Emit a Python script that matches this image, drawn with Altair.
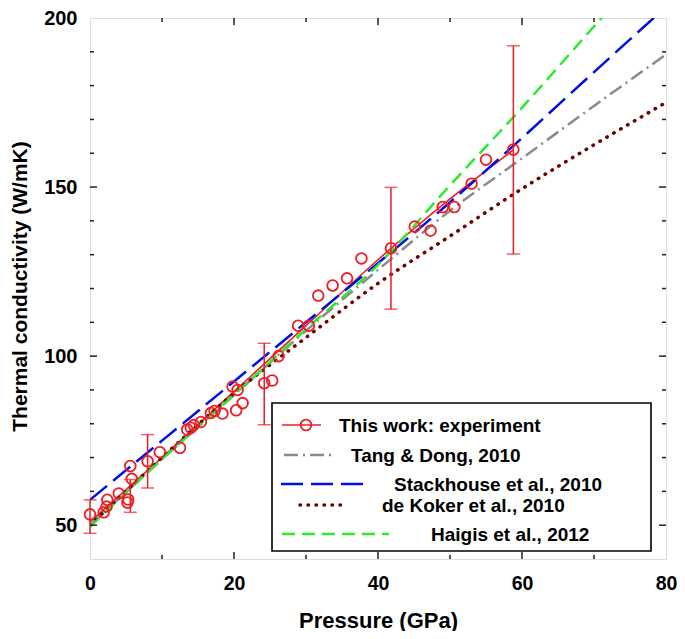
import altair as alt
import pandas as pd

# ---------------- data ----------------
exp_p = [0.0, 1.9, 2.3, 2.4, 4.0, 5.2, 5.3, 5.8, 5.6, 8.0, 9.7, 12.5, 13.5, 14.0, 14.4,
         15.4, 16.8, 17.3, 18.4, 19.8, 20.3, 20.5, 21.2, 24.2, 25.3, 26.2, 28.9, 30.4,
         31.7, 33.7, 35.7, 37.7, 41.8, 45.1, 47.3, 49.0, 50.6, 53.0, 55.0, 58.8]
exp_k = [53.2, 53.8, 55.5, 57.5, 59.4, 56.7, 57.6, 63.7, 67.5, 68.9, 71.6, 72.9, 78.3, 78.8, 79.6,
         80.5, 83.2, 83.8, 83.0, 91.0, 84.0, 90.0, 86.1, 92.0, 92.8, 100.0, 109.0, 109.0,
         117.9, 120.9, 123.0, 128.9, 131.9, 138.3, 137.1, 144.1, 144.1, 151.0, 158.1, 161.1]

err_p = [0.0, 5.6, 8.0, 24.2, 41.8, 58.8]
err_lo = [47.6, 53.8, 61.0, 79.7, 113.9, 130.2]
err_hi = [57.5, 63.5, 76.8, 103.8, 149.9, 191.8]

fit_p = [0, 10, 20, 30, 40, 50, 58.8]
fit_k = [51.0, 70.0, 89.5, 109.0, 128.5, 146.5, 161.0]

model_p = [0, 10, 20, 30, 40, 50, 60, 70, 80]
tang_k = [50.0, 69.5, 88.5, 107.5, 125.5, 143.0, 158.5, 174.0, 189.2]
stack_k = [57.5, 75.0, 92.5, 110.0, 127.5, 145.5, 164.5, 184.0, 203.3]
koker_k = [50.0, 70.0, 89.0, 105.5, 121.5, 135.5, 149.5, 162.5, 175.0]
haigis_k = [49.5, 69.5, 88.5, 108.0, 127.0, 150.5, 173.5, 197.5, 221.5]

x_labels = [0, 20, 40, 60, 80]
y_labels = [50, 100, 150, 200]
x_major = [20, 40, 60]
x_minor = [10, 30, 50, 70]
y_major = [50, 100, 150]
y_minor = [60, 70, 80, 90, 110, 120, 130, 140, 160, 170, 180, 190]

series_names = ["This work: experiment", "Tang & Dong, 2010", "Stackhouse et al., 2010",
                "de Koker et al., 2010", "Haigis et al., 2012"]

# ---------------- styling ----------------
W, H = 576, 541
FONT = "Liberation Sans"
RED = "#ee1c24"
GRAY = "#8a8a8a"
BLUE = "#0010dd"
DKRED = "#6e0000"
GREEN = "#2ee82e"
AX = "#222222"

DASH = {
    "tang": [14, 5, 2, 5],
    "stack": [22, 8],
    "koker": [0.5, 7.5],
    "haigis": [13, 7],
}

xs = alt.Scale(domain=[0, 80], nice=False, zero=False)
ys = alt.Scale(domain=[40, 200], nice=False, zero=False)

x_axis = alt.Axis(values=x_labels, title="Pressure (GPa)", grid=False, ticks=False,
                  domain=False, labelFont=FONT, labelFontSize=19.5, labelFontWeight="bold",
                  labelColor="black", labelPadding=15, labelFlush=False,
                  titleFont=FONT, titleFontSize=22,
                  titleFontWeight="bold", titleColor="black", titleX=288, titleY=68,
                  titleBaseline="alphabetic")
y_axis = alt.Axis(values=y_labels, title="Thermal conductivity (W/mK)", grid=False,
                  ticks=False, domain=False, labelFont=FONT, labelFontSize=20,
                  labelFontWeight="bold", labelColor="black", labelPadding=13,
                  labelFlush=False,
                  titleFont=FONT, titleFontSize=21, titleFontWeight="bold",
                  titleColor="black", titleX=-64, titleY=268, titleBaseline="alphabetic",
                  titleAngle=270)


def X(field):
    return alt.X(field, scale=xs, axis=x_axis, title="Pressure (GPa)")


def Y(field):
    return alt.Y(field, scale=ys, axis=y_axis, title="Thermal conductivity (W/mK)")


models = pd.DataFrame({
    "P": model_p * 4,
    "K": tang_k + stack_k + koker_k + haigis_k,
    "s": ["tang"] * 9 + ["stack"] * 9 + ["koker"] * 9 + ["haigis"] * 9,
})
fit_df = pd.DataFrame({"P": fit_p, "K": fit_k})
exp_df = pd.DataFrame({"P": exp_p, "K": exp_k})
err_df = pd.DataFrame({"P": err_p, "lo": err_lo, "hi": err_hi})


def model_line(key, color, width, cap="butt"):
    d = models[models.s == key]
    return alt.Chart(d).mark_line(color=color, strokeWidth=width, strokeDash=DASH[key],
                                  strokeCap=cap, clip=True, interpolate="monotone").encode(
        x=X("P:Q"), y=Y("K:Q"))


fit_line = alt.Chart(fit_df).mark_line(color=RED, strokeWidth=1.6,
                                       interpolate="monotone").encode(x=X("P:Q"), y=Y("K:Q"))

err_rule = alt.Chart(err_df).mark_rule(color=RED, strokeWidth=1.5).encode(
    x=X("P:Q"), y=Y("lo:Q"), y2="hi:Q")
err_cap_lo = alt.Chart(err_df).mark_tick(color=RED, thickness=1.5, size=13,
                                         orient="horizontal").encode(x=X("P:Q"), y=Y("lo:Q"))
err_cap_hi = alt.Chart(err_df).mark_tick(color=RED, thickness=1.5, size=13,
                                         orient="horizontal").encode(x=X("P:Q"), y=Y("hi:Q"))

points = alt.Chart(exp_df).mark_point(shape="circle", filled=False, color=RED, size=115,
                                      strokeWidth=1.8, opacity=1).encode(x=X("P:Q"), y=Y("K:Q"))


# ---------------- inward ticks on all four sides ----------------
def xticks(vals, length):
    d = pd.DataFrame({"v": vals})
    bot = alt.Chart(d).mark_rule(color=AX, strokeWidth=1.5).encode(
        x=X("v:Q"), y=alt.value(H), y2=alt.value(H - length))
    top = alt.Chart(d).mark_rule(color=AX, strokeWidth=1.5).encode(
        x=X("v:Q"), y=alt.value(0), y2=alt.value(length))
    return [bot, top]


def yticks(vals, length):
    d = pd.DataFrame({"v": vals})
    lef = alt.Chart(d).mark_rule(color=AX, strokeWidth=1.5).encode(
        y=Y("v:Q"), x=alt.value(0), x2=alt.value(length))
    rig = alt.Chart(d).mark_rule(color=AX, strokeWidth=1.5).encode(
        y=Y("v:Q"), x=alt.value(W), x2=alt.value(W - length))
    return [lef, rig]


tick_layers = xticks(x_major, 7) + xticks(x_minor, 4) + yticks(y_major, 7) + yticks(y_minor, 4)

# ---------------- legend (drawn in pixel space) ----------------
LX0, LX1, LY0, LY1 = 182, 561, 385, 533
legend_box = alt.Chart(pd.DataFrame({"a": [0]})).mark_rect(
    fill="white", stroke="black", strokeWidth=1.6).encode(
    x=alt.value(LX0), x2=alt.value(LX1), y=alt.value(LY0), y2=alt.value(LY1))

leg_rows = [
    # (label, color, dash, width, cap, line x0, line x1, y, text x)
    (series_names[0], RED, None, 1.6, "butt", 192, 231, 407, 249),
    (series_names[1], GRAY, DASH["tang"], 2.5, "butt", 194, 242, 437, 261),
    (series_names[2], BLUE, DASH["stack"], 2.5, "butt", 191, 274, 466, 304),
    (series_names[3], DKRED, DASH["koker"], 3.5, "round", 210, 256, 487, 292),
    (series_names[4], GREEN, DASH["haigis"], 2.5, "butt", 192, 299, 516, 341),
]
legend_layers = [legend_box]
for lab, col, dash, wdt, cap, x0, x1, yy, tx in leg_rows:
    kw = dict(color=col, strokeWidth=wdt, strokeCap=cap)
    if dash is not None:
        kw["strokeDash"] = dash
    legend_layers.append(alt.Chart(pd.DataFrame({"a": [0]})).mark_rule(**kw).encode(
        x=alt.value(x0), x2=alt.value(x1), y=alt.value(yy)))
    legend_layers.append(alt.Chart(pd.DataFrame({"a": [0]})).mark_text(
        align="left", baseline="middle", font=FONT, fontSize=19, fontWeight="bold",
        color="black").encode(x=alt.value(tx), y=alt.value(yy + 1), text=alt.value(lab)))
legend_layers.append(alt.Chart(pd.DataFrame({"a": [0]})).mark_point(
    shape="circle", filled=False, color=RED, size=115, strokeWidth=1.8, opacity=1).encode(
    x=alt.value(216), y=alt.value(407)))

chart = alt.layer(
    fit_line,
    model_line("tang", GRAY, 2.5),
    model_line("stack", BLUE, 2.5),
    model_line("koker", DKRED, 3.5, "round"),
    model_line("haigis", GREEN, 2.5),
    err_rule, err_cap_lo, err_cap_hi,
    points,
    *tick_layers,
    *legend_layers,
).properties(
    width=W, height=H,
    autosize=alt.AutoSizeParams(type="none"),
    padding={"left": 82, "top": 10, "right": 11, "bottom": 72},
).configure_view(
    stroke=AX, strokeWidth=2
).configure(background="white")

chart.save("out.html", embed_options={"renderer": "svg", "actions": False})
